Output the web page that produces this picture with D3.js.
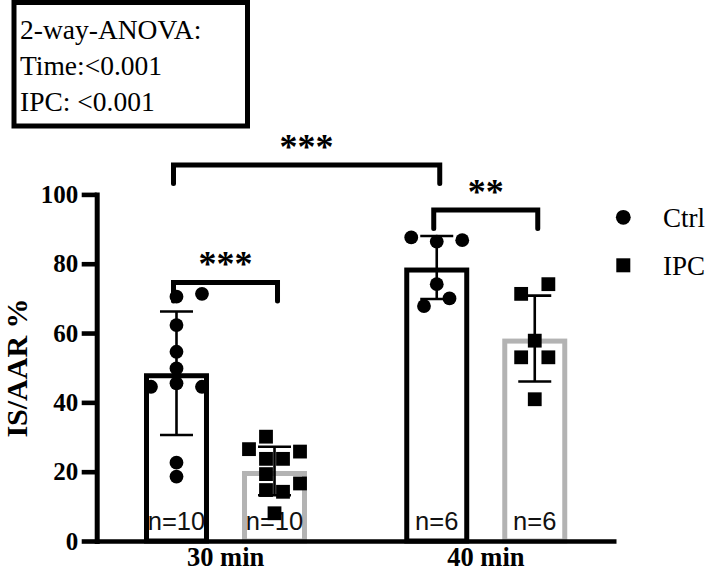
<!DOCTYPE html>
<html>
<head>
<meta charset="utf-8">
<script src="https://cdn.jsdelivr.net/npm/d3@7"></script>
<style>
  html, body { margin: 0; padding: 0; background: #fff; }
  svg { display: block; }
</style>
</head>
<body>
<div id="chart"></div>
<script>
// ---------- data ----------
const groups = ["30 min", "40 min"];
const series = ["Ctrl", "IPC"];
const ctrlMeans = [48.4, 78.9];
const ipcMeans = [20.2, 58.4];
const ctrlSD = [17.8, 9.1];
const ipcSD = [7.0, 12.4];
const ctrlN = [10, 6];
const ipcN = [10, 6];
const ctrl30Points = [70.5, 71.3, 62.3, 54.6, 49.8, 45.5, 44.5, 44.5, 22.6, 18.6];
const ctrl30Jitter = [0, 3, 0, 0, 0, 0, -3, 3, 0, 0];
const ipc30Points = [30.1, 26.5, 25.8, 23.7, 23.7, 19.3, 16.6, 14.7, 14.2, 8.0];
const ipc30Jitter = [-1, -3, 3, -1, 1, -1, 3, -1, 1, 0];
const ctrl40Points = [87.6, 86.4, 86.8, 74.1, 70.0, 67.8];
const ctrl40Jitter = [-3, 0, 3, 0, 1.5, -1.5];
const ipc40Points = [71.3, 74.1, 57.8, 53.0, 53.0, 40.9];
const ipc40Jitter = [-1.6, 1.6, 0, -1.6, 1.6, 0];
const yTicks = [0, 20, 40, 60, 80, 100];
const yLabel = "IS/AAR %";
const annotationLines = ["2-way-ANOVA:", "Time:<0.001", "IPC: <0.001"];
const comparisons = [
  { a: ["30 min", "Ctrl"], b: ["30 min", "IPC"], label: "***", level: 74.6 },
  { a: ["30 min", "Ctrl"], b: ["40 min", "Ctrl"], label: "***", level: 108.5 },
  { a: ["40 min", "Ctrl"], b: ["40 min", "IPC"], label: "**", level: 95.5 }
];

// ---------- build table ----------
const pointSets = { "30 min": { Ctrl: [ctrl30Points, ctrl30Jitter], IPC: [ipc30Points, ipc30Jitter] },
                    "40 min": { Ctrl: [ctrl40Points, ctrl40Jitter], IPC: [ipc40Points, ipc40Jitter] } };
const rows = [];
groups.forEach((g, i) => {
  rows.push({ group: g, series: "Ctrl", mean: ctrlMeans[i], sd: ctrlSD[i], n: ctrlN[i],
              pts: pointSets[g].Ctrl[0], jit: pointSets[g].Ctrl[1] });
  rows.push({ group: g, series: "IPC", mean: ipcMeans[i], sd: ipcSD[i], n: ipcN[i],
              pts: pointSets[g].IPC[0], jit: pointSets[g].IPC[1] });
});

// ---------- layout ----------
const W = 709, H = 572;
const serif = "'Liberation Serif', 'Times New Roman', Times, serif";
const sans = "'Liberation Sans', Arial, Helvetica, sans-serif";
const svg = d3.select("#chart").append("svg").attr("width", W).attr("height", H);

const y = d3.scaleLinear().domain([0, 100]).range([541, 194.4]);
const x0 = d3.scaleBand().domain(groups).range([95.5, 616]);
const x1 = d3.scaleBand().domain(series).range([51, 209]).paddingInner(0.388);
const cx = (g, s) => x0(g) + x1(s) + x1.bandwidth() / 2;
const color = { Ctrl: "#000", IPC: "#b3b3b3" };
const jitterPx = 8.5;
const barStroke = 5;

// bars (stroke drawn inside the bar outline)
svg.append("g").selectAll("rect").data(rows).join("rect")
  .attr("x", d => x0(d.group) + x1(d.series))
  .attr("width", x1.bandwidth())
  .attr("y", d => y(d.mean) + barStroke / 2)
  .attr("height", d => y(0) - y(d.mean) - barStroke / 2)
  .attr("fill", "#fff")
  .attr("stroke", d => color[d.series])
  .attr("stroke-width", barStroke);

// n labels
svg.append("g").selectAll("text").data(rows).join("text")
  .attr("x", d => cx(d.group, d.series))
  .attr("y", 530)
  .attr("text-anchor", "middle")
  .style("font-family", sans).style("font-size", "25.5px").attr("fill", "#111")
  .text(d => "n=" + d.n);

// points
rows.forEach(d => {
  const g = svg.append("g");
  const c = cx(d.group, d.series);
  d.pts.forEach((v, k) => {
    const px = c + d.jit[k] * jitterPx, py = y(v);
    if (d.series === "Ctrl") {
      g.append("circle").attr("cx", px).attr("cy", py).attr("r", 6.9).attr("fill", "#000");
    } else {
      g.append("rect").attr("x", px - 6.9).attr("y", py - 6.9).attr("width", 13.8).attr("height", 13.8).attr("fill", "#000");
    }
  });
});

// error bars
const eb = svg.append("g").attr("stroke", "#000").attr("stroke-width", 2.6);
rows.forEach(d => {
  const c = cx(d.group, d.series);
  eb.append("line").attr("x1", c).attr("x2", c).attr("y1", y(d.mean - d.sd)).attr("y2", y(d.mean + d.sd));
  [d.mean - d.sd, d.mean + d.sd].forEach(v => {
    eb.append("line").attr("x1", c - 16.5).attr("x2", c + 16.5).attr("y1", y(v)).attr("y2", y(v));
  });
});

// axes
const yAxis = svg.append("g").attr("transform", "translate(96.7,0)")
  .call(d3.axisLeft(y).tickValues(yTicks).tickSize(15).tickSizeOuter(0).tickPadding(3.5));
yAxis.select(".domain").attr("stroke-width", 5).attr("stroke-linecap", "square");
yAxis.selectAll(".tick line").attr("stroke-width", 4.6);
yAxis.selectAll(".tick text").style("font-family", serif).style("font-size", "25px")
  .style("font-weight", "bold").attr("fill", "#000");

const xAxis = svg.append("g").attr("transform", "translate(0,541)")
  .call(d3.axisBottom(x0).tickSize(0).tickSizeOuter(0).tickPadding(6.2));
xAxis.select(".domain").attr("stroke-width", 4.6);
xAxis.selectAll(".tick text").style("font-family", serif).style("font-size", "26.5px")
  .style("font-weight", "bold").attr("fill", "#000");

// y label
svg.append("text").attr("transform", "translate(27,368) rotate(-90)")
  .attr("text-anchor", "middle")
  .style("font-family", serif).style("font-size", "30px").style("font-weight", "bold")
  .text(yLabel);

// significance brackets
const br = svg.append("g");
comparisons.forEach(c => {
  const xa = cx(c.a[0], c.a[1]) - 3, xb = cx(c.b[0], c.b[1]) + 3;
  const yl = y(c.level), drop = 18.5;
  br.append("path")
    .attr("d", `M${xa},${yl + drop}V${yl}H${xb}V${yl + drop}`)
    .attr("fill", "none").attr("stroke", "#000").attr("stroke-width", 5)
    .attr("stroke-linecap", "round").attr("stroke-linejoin", "miter");
  br.append("text").attr("x", (xa + xb) / 2).attr("y", yl - 6)
    .attr("text-anchor", "middle")
    .style("font-family", serif).style("font-size", "36px").style("font-weight", "bold")
    .text(c.label);
});

// legend
const lg = svg.append("g");
lg.append("circle").attr("cx", 623.3).attr("cy", 217.3).attr("r", 7.4).attr("fill", "#000");
lg.append("rect").attr("x", 616.3).attr("y", 258.3).attr("width", 14).attr("height", 14).attr("fill", "#000");
series.forEach((s, i) => {
  lg.append("text").attr("x", 663).attr("y", 227 + i * 48)
    .style("font-family", serif).style("font-size", "27px").text(s);
});

// annotation box
svg.append("rect").attr("x", 14).attr("y", 2.5).attr("width", 233.5).attr("height", 123.5)
  .attr("fill", "none").attr("stroke", "#000").attr("stroke-width", 5);
svg.append("g").selectAll("text").data(annotationLines).join("text")
  .attr("x", 20).attr("y", (d, i) => 38.5 + i * 36)
  .style("font-family", serif).style("font-size", "27.5px")
  .text(d => d);
</script>
</body>
</html>
